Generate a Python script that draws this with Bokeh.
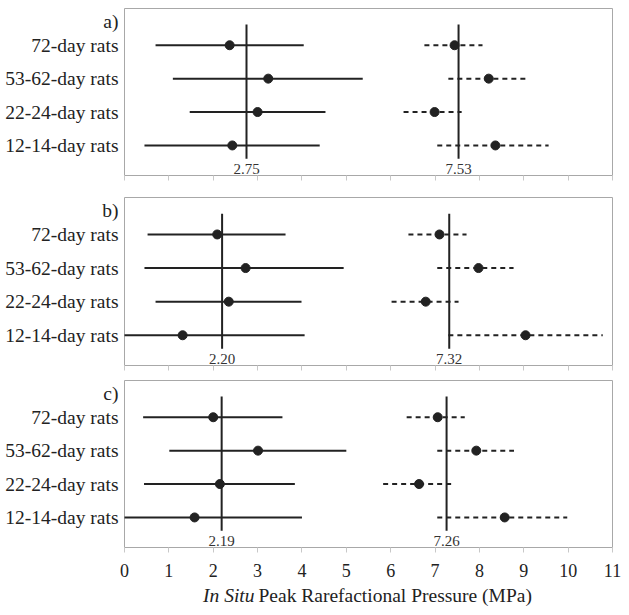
from bokeh.plotting import figure
from bokeh.models import Range1d, FixedTicker
from bokeh.layouts import column
from bokeh.embed import file_html
from bokeh.resources import INLINE
from bokeh.core.properties import value

categories = ["12-14-day rats", "22-24-day rats", "53-62-day rats", "72-day rats"]
x_ticks = list(range(0, 12))
panel_labels = ["a)", "b)", "c)"]
x_title_italic = "In Situ"
x_title_rest = "Peak Rarefactional Pressure (MPa)"

# panel a  (order follows categories)
a_solid_mean = [2.43, 3.00, 3.24, 2.37]
a_solid_low = [0.45, 1.47, 1.09, 0.70]
a_solid_high = [4.40, 4.53, 5.37, 4.04]
a_dash_mean = [8.36, 6.99, 8.21, 7.44]
a_dash_low = [7.05, 6.29, 7.30, 6.76]
a_dash_high = [9.56, 7.60, 9.04, 8.07]
a_ref = [2.75, 7.53]

# panel b
b_solid_mean = [1.31, 2.35, 2.73, 2.09]
b_solid_low = [-0.09, 0.70, 0.45, 0.52]
b_solid_high = [4.06, 3.99, 4.94, 3.63]
b_dash_mean = [9.04, 6.79, 7.98, 7.10]
b_dash_low = [7.30, 6.02, 7.05, 6.40]
b_dash_high = [10.78, 7.53, 8.77, 7.71]
b_ref = [2.20, 7.32]

# panel c
c_solid_mean = [1.58, 2.15, 3.01, 2.00]
c_solid_low = [-0.06, 0.44, 1.01, 0.42]
c_solid_high = [4.00, 3.84, 5.00, 3.56]
c_dash_mean = [8.57, 6.64, 7.93, 7.06]
c_dash_low = [7.05, 5.83, 7.05, 6.36]
c_dash_high = [9.98, 7.37, 8.78, 7.67]
c_ref = [2.19, 7.26]

panels = [
    (a_solid_mean, a_solid_low, a_solid_high, a_dash_mean, a_dash_low, a_dash_high, a_ref),
    (b_solid_mean, b_solid_low, b_solid_high, b_dash_mean, b_dash_low, b_dash_high, b_ref),
    (c_solid_mean, c_solid_low, c_solid_high, c_dash_mean, c_dash_low, c_dash_high, c_ref),
]

SERIF = "Liberation Serif"
INK = "#222222"
FRAME = "#a8a8a8"
ypos = list(range(1, len(categories) + 1))
YLO, YHI = 0.1, 5.1
PANEL_TAG_Y = 4.7

W = 621
LEFT = 124
RIGHT = 9
tops = [8, 1, 1]
bottoms = [21, 14, 31]
frame_h = [167, 168, 168]

figs = []
for i, (sm, sl, sh, dm, dl, dh, ref) in enumerate(panels):
    last = i == len(panels) - 1
    p = figure(width=W, height=tops[i] + frame_h[i] + bottoms[i],
               x_range=Range1d(0, 11), y_range=Range1d(YLO, YHI),
               output_backend="svg", toolbar_location=None,
               min_border_left=LEFT, min_border_right=RIGHT, min_border_top=tops[i],
               min_border_bottom=bottoms[i])
    p.outline_line_color = FRAME
    p.outline_line_width = 1
    p.grid.visible = False
    p.background_fill_color = "white"
    p.border_fill_color = "white"

    xa = p.xaxis[0]
    xa.ticker = FixedTicker(ticks=x_ticks)
    xa.axis_line_color = None
    xa.major_tick_in = 0
    xa.major_tick_out = 5
    xa.major_tick_line_color = "#c8c8c8"
    xa.minor_tick_line_color = None
    xa.major_label_text_font = SERIF
    if last:
        xa.major_label_standoff = 11
        xa.major_label_text_font_size = "18px"
        xa.major_label_text_color = "#222222"
    else:
        xa.major_label_standoff = 0
        xa.major_label_text_font_size = "2px"
        xa.major_label_text_color = None

    ya = p.yaxis[0]
    ticks = list(ypos) + [PANEL_TAG_Y]
    overrides = {k: c for k, c in zip(ypos, categories)}
    overrides[PANEL_TAG_Y] = panel_labels[i]
    ya.ticker = FixedTicker(ticks=ticks)
    ya.major_label_overrides = overrides
    ya.axis_line_color = None
    ya.major_tick_line_color = None
    ya.minor_tick_line_color = None
    ya.major_label_standoff = 0
    ya.major_label_text_font = SERIF
    ya.major_label_text_font_size = "19.5px"
    ya.major_label_text_color = "#222222"

    # reference vertical lines
    p.segment(x0=ref, y0=[0.6] * len(ref), x1=ref, y1=[4.62] * len(ref),
              line_color=INK, line_width=2)
    p.text(x=ref, y=[0.28] * len(ref), text=[f"{r:.2f}" for r in ref],
           text_font=value(SERIF), text_font_size="15px", text_color="#333333",
           text_align="center", text_baseline="middle")

    # solid intervals
    p.segment(x0=sl, y0=ypos, x1=sh, y1=ypos, line_color=INK, line_width=2)
    p.scatter(x=sm, y=ypos, size=9, fill_color=INK, line_color=INK)
    # dashed intervals
    p.segment(x0=dl, y0=ypos, x1=dh, y1=ypos, line_color=INK, line_width=2,
              line_dash="5 4")
    p.scatter(x=dm, y=ypos, size=9, fill_color=INK, line_color=INK)
    figs.append(p)

# x-axis title strip (mixed italic / upright text), sharing the x scale
t = figure(width=W, height=32, x_range=figs[-1].x_range, y_range=Range1d(0, 1),
           output_backend="svg", toolbar_location=None,
           min_border_left=LEFT, min_border_right=RIGHT, min_border_top=0,
           min_border_bottom=0)
t.axis.visible = False
t.grid.visible = False
t.outline_line_color = None
t.text(x=[2.93], y=[0.5], text=[x_title_italic], text_font=value(SERIF),
       text_font_style="italic", text_font_size="19.5px", text_color="#222222",
       text_align="right", text_baseline="middle")
t.text(x=[3.02], y=[0.5], text=[x_title_rest], text_font=value(SERIF),
       text_font_size="19.5px", text_color="#222222",
       text_align="left", text_baseline="middle")
figs.append(t)

layout = column(*figs, spacing=0)
open("out.html", "w").write(file_html(layout, INLINE))
